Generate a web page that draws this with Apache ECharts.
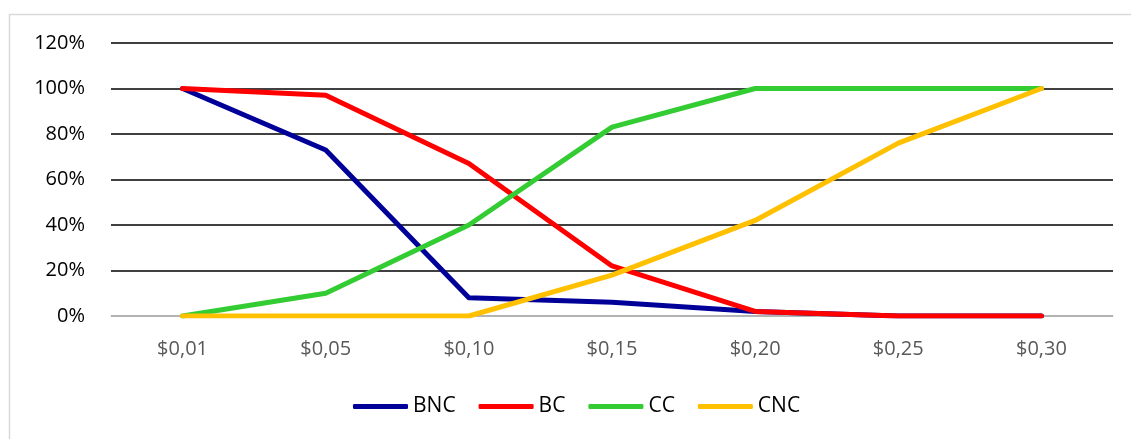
<!DOCTYPE html>
<html>
<head>
<meta charset="utf-8">
<script src="https://cdn.jsdelivr.net/npm/echarts@6/dist/echarts.min.js"></script>
<style>
  html, body { margin: 0; padding: 0; background: #fff; }
  #chart { width: 1131px; height: 439px; }
</style>
</head>
<body>
<div id="chart"></div>
<script>
var categories = ['$0,01', '$0,05', '$0,10', '$0,15', '$0,20', '$0,25', '$0,30'];
var bnc = [100, 73, 8, 6, 2, 0, 0];
var bc  = [100, 97, 67, 22, 2, 0, 0];
var cc  = [0, 10, 40, 83, 100, 100, 100];
var cnc = [0, 0, 0, 18, 42, 76, 100];

var dom = document.getElementById("chart");
var myChart = echarts.init(dom);
var font = "'Open Sans', 'Noto Sans', sans-serif";

function line(name, data, color) {
    return {
        name: name,
        type: 'line',
        data: data,
        symbol: 'none',
        lineStyle: { width: 5, color: color, cap: 'round', join: 'round' },
        itemStyle: { color: color }
    };
}

var option = {
    animation: false,
    graphic: [{
        type: 'rect',
        shape: { x: 9.5, y: 14.5, width: 1140, height: 440 },
        style: { fill: 'none', stroke: '#d9d9d9', lineWidth: 1.5 },
        silent: true
    }],
    grid: { left: 111, right: 18, top: 43, bottom: 123 },
    legend: {
        bottom: 17,
        left: 348,
        icon: 'roundRect',
        itemWidth: 55,
        itemHeight: 5,
        itemGap: 23,
        textStyle: { fontFamily: font, fontSize: 21, color: '#000' },
        data: ['BNC', 'BC', 'CC', 'CNC']
    },
    xAxis: {
        type: 'category',
        data: categories,
        boundaryGap: true,
        axisLine: { lineStyle: { color: '#d9d9d9', width: 1.5 } },
        axisTick: { show: false },
        axisLabel: { color: '#595959', fontFamily: font, fontSize: 20, margin: 23 }
    },
    yAxis: {
        type: 'value',
        min: 0,
        max: 120,
        interval: 20,
        axisLine: { show: false },
        axisTick: { show: false },
        splitLine: { lineStyle: { color: '#000', width: 1.5 } },
        axisLabel: { formatter: '{value}%', color: '#000', fontFamily: font, fontSize: 20, margin: 26 }
    },
    series: [
        line('BNC', bnc, '#000099'),
        line('BC', bc, '#ff0000'),
        line('CC', cc, '#33cc33'),
        line('CNC', cnc, '#ffc000')
    ]
};

myChart.setOption(option, true);

window.addEventListener("resize", function () {
    myChart.resize();
});
</script>
</body>
</html>
